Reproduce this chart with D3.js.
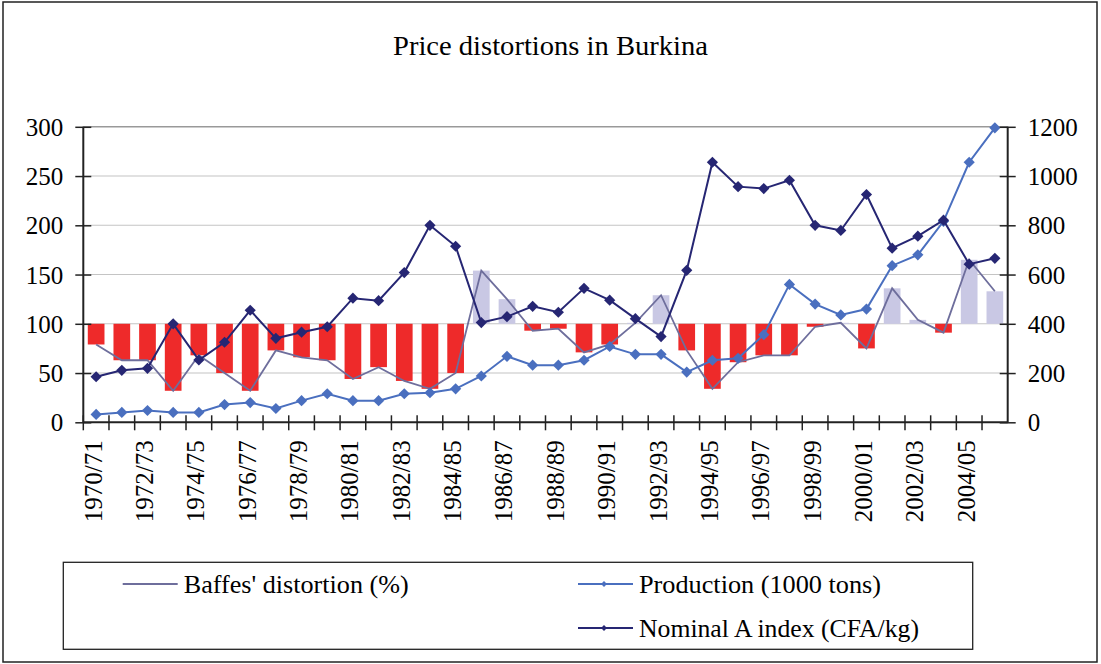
<!DOCTYPE html>
<html>
<head>
<meta charset="utf-8">
<script src="https://cdn.jsdelivr.net/npm/d3@7"></script>
<style>
  body { margin: 0; background: #fff; }
  text { font-family: "Liberation Serif", "Times New Roman", serif; fill: #000; }
</style>
</head>
<body>
<script>
// data
var years = ["1970/71","1971/72","1972/73","1973/74","1974/75","1975/76","1976/77","1977/78",
  "1978/79","1979/80","1980/81","1981/82","1982/83","1983/84","1984/85","1985/86","1986/87",
  "1987/88","1988/89","1989/90","1990/91","1991/92","1992/93","1993/94","1994/95","1995/96",
  "1996/97","1997/98","1998/99","1999/00","2000/01","2001/02","2002/03","2003/04","2004/05","2005/06"];

var distortion = [79, 63, 63, 32, 68, 50, 32, 73, 66, 63, 44, 56, 42, 34, 50, 154, 125, 93,
  95, 71, 79, 101, 129, 73, 34, 61, 68, 68, 97, 101, 75, 136, 104, 91, 165, 133];

var production = [8, 10, 12, 10, 10, 18, 20, 14, 22, 29, 22, 22, 29, 30, 34, 47, 67, 58,
  58, 63, 77, 69, 69, 51, 63, 65, 89, 140, 120, 109, 115, 159, 170, 204, 264, 299];

var nominal = [185, 211, 219, 400, 253, 325, 455, 341, 366, 388, 504, 494, 608, 800, 715, 405,
  429, 471, 447, 544, 496, 421, 348, 617, 1056, 957, 949, 983, 800, 779, 925, 707, 756, 821, 642, 666];

var leftTicks = [0, 50, 100, 150, 200, 250, 300];
var rightTicks = [0, 200, 400, 600, 800, 1000, 1200];

var W = 1101, H = 664;
var plot = { left: 83.3, right: 1007.7, top: 126.8, bottom: 422.3 };

var svg = d3.select("body").append("svg")
    .attr("width", W)
    .attr("height", H);

// outer frame
svg.append("rect")
    .attr("x", 3).attr("y", 2)
    .attr("width", 1094).attr("height", 660)
    .attr("fill", "#fff").attr("stroke", "#222").attr("stroke-width", 1.5);

// title
svg.append("text")
    .attr("x", 550.5).attr("y", 55)
    .attr("text-anchor", "middle")
    .attr("font-size", 28)
    .attr("textLength", 315).attr("lengthAdjust", "spacingAndGlyphs")
    .text("Price distortions in Burkina");

// scales
var x = d3.scaleBand().domain(years).range([plot.left, plot.right]).paddingInner(0.35).paddingOuter(0.175);
var step = x.step();
var xc = function (d) { return x(d) + x.bandwidth() / 2; };
var yL = d3.scaleLinear().domain([0, 300]).range([plot.bottom, plot.top]);
var yR = d3.scaleLinear().domain([0, 1200]).range([plot.bottom, plot.top]);

// gridlines
svg.append("g").selectAll("line")
    .data(leftTicks.slice(1))
    .enter().append("line")
    .attr("x1", plot.left).attr("x2", plot.right)
    .attr("y1", function (d) { return yL(d); })
    .attr("y2", function (d) { return yL(d); })
    .attr("stroke", function (d) { return d === 300 ? "#999" : "#c4c4c4"; })
    .attr("stroke-width", function (d) { return d === 300 ? 1.6 : 1.1; });

// distortion bars from the 100 line
svg.append("g").selectAll("rect")
    .data(distortion)
    .enter().append("rect")
    .attr("x", function (d, i) { return x(years[i]); })
    .attr("width", x.bandwidth())
    .attr("y", function (d) { return yL(Math.max(d, 100)); })
    .attr("height", function (d) { return Math.abs(yL(d) - yL(100)); })
    .attr("fill", function (d) { return d < 100 ? "#ee2a2a" : "#c9c8e4"; });

// lines
var distLine = d3.line()
    .x(function (d, i) { return xc(years[i]); })
    .y(function (d) { return yL(d); });
var prodLine = d3.line()
    .x(function (d, i) { return xc(years[i]); })
    .y(function (d) { return yL(d); });
var nomLine = d3.line()
    .x(function (d, i) { return xc(years[i]); })
    .y(function (d) { return yR(d); });

svg.append("path").datum(distortion)
    .attr("d", distLine).attr("fill", "none")
    .attr("stroke", "#6e6e9c").attr("stroke-width", 1.8);

var diamond = d3.symbol().type(d3.symbolDiamond2).size(80);

svg.append("path").datum(production)
    .attr("d", prodLine).attr("fill", "none")
    .attr("stroke", "#4a6fbf").attr("stroke-width", 2);
svg.append("g").selectAll("path")
    .data(production)
    .enter().append("path")
    .attr("d", diamond)
    .attr("transform", function (d, i) { return "translate(" + xc(years[i]) + "," + yL(d) + ")"; })
    .attr("fill", "#4a6fbf");

svg.append("path").datum(nominal)
    .attr("d", nomLine).attr("fill", "none")
    .attr("stroke", "#262673").attr("stroke-width", 2);
svg.append("g").selectAll("path")
    .data(nominal)
    .enter().append("path")
    .attr("d", diamond)
    .attr("transform", function (d, i) { return "translate(" + xc(years[i]) + "," + yR(d) + ")"; })
    .attr("fill", "#262673");

// left axis
var gL = svg.append("g")
    .attr("transform", "translate(" + plot.left + ",0)")
    .call(d3.axisLeft(yL).tickValues(leftTicks).tickSize(8).tickFormat(d3.format("d")));
gL.selectAll(".tick line").attr("x1", 8).attr("x2", -8).attr("stroke", "#222").attr("stroke-width", 1.5);
gL.selectAll(".tick text").attr("font-size", 25).attr("font-family", "Liberation Serif").attr("dy", "0.34em").attr("x", -20);
gL.select(".domain").attr("stroke", "#222").attr("stroke-width", 2).attr("d", "M0," + plot.top + "V" + plot.bottom);

// right axis
var gR = svg.append("g")
    .attr("transform", "translate(" + plot.right + ",0)")
    .call(d3.axisRight(yR).tickValues(rightTicks).tickSize(8).tickFormat(d3.format("d")));
gR.selectAll(".tick line").attr("x1", -8).attr("x2", 8).attr("stroke", "#222").attr("stroke-width", 1.5);
gR.selectAll(".tick text").attr("font-size", 25).attr("font-family", "Liberation Serif").attr("dy", "0.34em").attr("x", 20);
gR.select(".domain").attr("stroke", "#222").attr("stroke-width", 2).attr("d", "M0," + plot.top + "V" + plot.bottom);

// x axis: line, ticks between categories, labels every second year
var gX = svg.append("g");
gX.append("line")
    .attr("x1", plot.left).attr("x2", plot.right)
    .attr("y1", plot.bottom).attr("y2", plot.bottom)
    .attr("stroke", "#222").attr("stroke-width", 2);
gX.selectAll(".xt")
    .data(years)
    .enter().append("line")
    .attr("class", "xt")
    .attr("x1", function (d) { return x(d) - x.paddingInner() * step / 2; })
    .attr("x2", function (d) { return x(d) - x.paddingInner() * step / 2; })
    .attr("y1", plot.bottom - 7).attr("y2", plot.bottom + 8)
    .attr("stroke", "#222").attr("stroke-width", 1.5);
gX.selectAll(".xl")
    .data(years.filter(function (d, i) { return i % 2 === 0; }))
    .enter().append("text")
    .attr("class", "xl")
    .attr("font-size", 25)
    .attr("text-anchor", "end")
    .attr("dy", "0.34em")
    .attr("transform", function (d) { return "translate(" + (xc(d) - 3) + "," + (plot.bottom + 18) + ") rotate(-90)"; })
    .text(function (d) { return d; });

// legend
var lg = svg.append("g");
lg.append("rect")
    .attr("x", 63.3).attr("y", 562.3)
    .attr("width", 909.4).attr("height", 87)
    .attr("fill", "#fff").attr("stroke", "#222").attr("stroke-width", 1.3);

var legendItems = [
  { label: "Baffes' distortion (%)", color: "#6e6e9c", marker: false, lx: 122.7, ly: 584, len: 225 },
  { label: "Production (1000 tons)", color: "#4a6fbf", marker: true, lx: 578, ly: 584, len: 242 },
  { label: "Nominal A index (CFA/kg)", color: "#262673", marker: true, lx: 578, ly: 628, len: 280 }
];
legendItems.forEach(function (d) {
  lg.append("line")
      .attr("x1", d.lx).attr("x2", d.lx + 55)
      .attr("y1", d.ly).attr("y2", d.ly)
      .attr("stroke", d.color).attr("stroke-width", 2);
  if (d.marker) {
    lg.append("path")
        .attr("d", d3.symbol().type(d3.symbolDiamond2).size(22))
        .attr("transform", "translate(" + (d.lx + 26) + "," + d.ly + ")")
        .attr("fill", d.color);
  }
  lg.append("text")
      .attr("x", d.lx + 61).attr("y", d.ly)
      .attr("dy", "0.34em")
      .attr("font-size", 26)
      .attr("textLength", d.len).attr("lengthAdjust", "spacingAndGlyphs")
      .text(d.label);
});
</script>
</body>
</html>
